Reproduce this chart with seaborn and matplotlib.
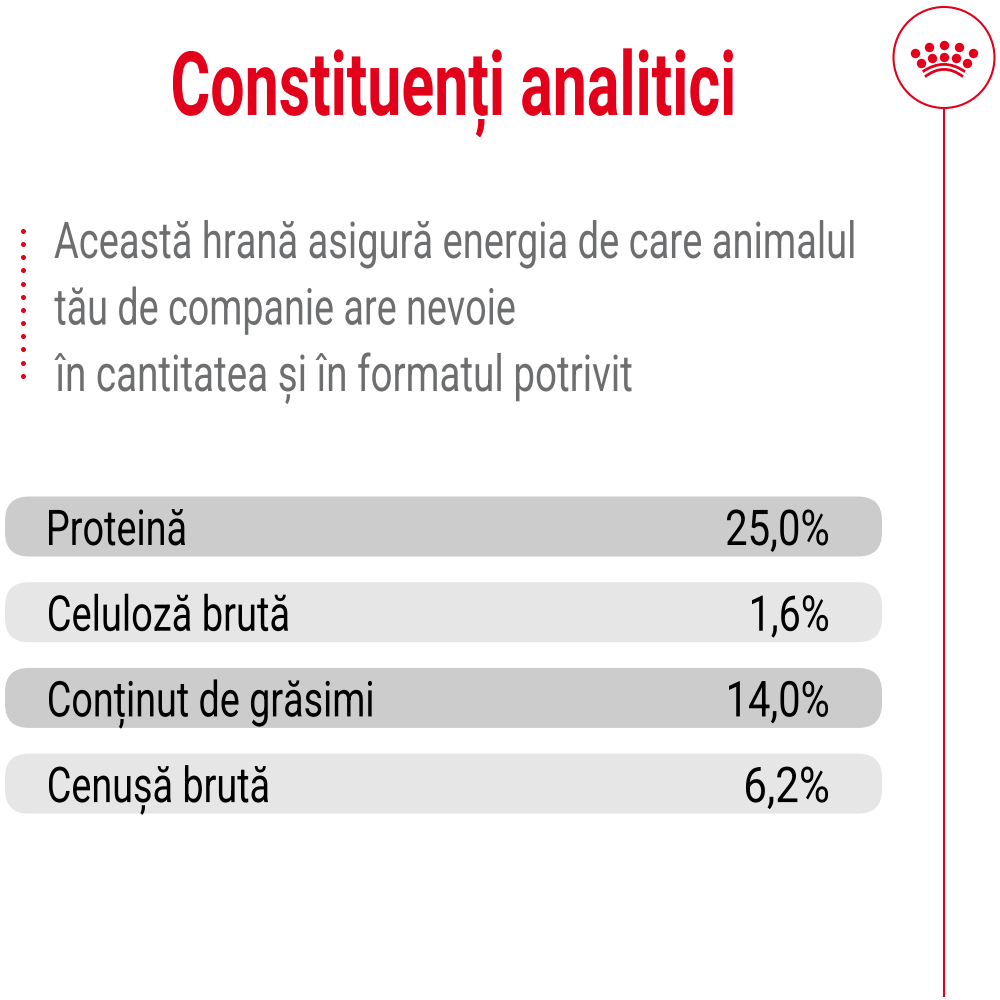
import matplotlib
matplotlib.use("Agg")
import matplotlib.pyplot as plt
from matplotlib.colors import to_rgba
from matplotlib.font_manager import FontProperties
from matplotlib.patches import Circle, FancyBboxPatch, PathPatch
from matplotlib.path import Path
from matplotlib.text import Text
from matplotlib.textpath import TextPath
from matplotlib.transforms import Affine2D, IdentityTransform
import pandas as pd
import seaborn as sns

# data
title = "Constituenți analitici"
intro_lines = [
    "Această hrană asigură energia de care animalul",
    "tău de companie are nevoie",
    "în cantitatea și în formatul potrivit",
]
nutrients = ["Proteină", "Celuloză brută", "Conținut de grăsimi", "Cenușă brută"]
values = ["25,0%", "1,6%", "14,0%", "6,2%"]
row_length = [877, 877, 877, 877]

crown_x = [915, 929, 944, 959, 973.3, 921, 932, 944, 956, 967.3]
crown_y = [52.7, 47, 45, 47, 52.7, 62.7, 58.3, 56.7, 58.3, 62.7]

# text widths in the picture, px
intro_widths = [799, 460, 577]
name_widths = [136, 239, 323, 219]
value_widths = [101, 76, 99, 82]

RED = "#e2001a"
GREY_TEXT = "#6d6e70"
FONT = "Roboto"

sns.set_theme(style="white")
plt.rcParams["font.family"] = [FONT, "DejaVu Sans"]


# no condensed font here, so squeeze the glyphs sideways when drawing
class NarrowText(Text):
    def __init__(self, x, y, s, squeeze=1.0, **kw):
        super().__init__(x, y, s, **kw)
        self.squeeze = squeeze

    def _outline(self):
        tp = TextPath((0, 0), self.get_text(), size=self.get_fontsize(),
                      prop=self.get_fontproperties())
        k = self.figure.dpi / 72
        ext = tp.get_extents()
        x, y = self.get_transform().transform(self.get_position())
        if self.get_ha() == "right":
            x -= ext.x1 * self.squeeze * k
        elif self.get_ha() == "center":
            x -= (ext.x0 + ext.x1) / 2 * self.squeeze * k
        else:
            x -= ext.x0 * self.squeeze * k
        return tp.transformed(Affine2D().scale(self.squeeze * k, k).translate(x, y))

    def draw(self, renderer):
        gc = renderer.new_gc()
        gc.set_linewidth(0)
        renderer.draw_path(gc, self._outline(), IdentityTransform(),
                           to_rgba(self.get_color()))
        gc.restore()

    def get_window_extent(self, renderer=None, dpi=None):
        return self._outline().get_extents()


def squeeze_for(text, size, weight, width_px):
    tp = TextPath((0, 0), text, size=size, prop=FontProperties(family=FONT, weight=weight))
    return width_px / (tp.get_extents().width * 100 / 72)


fig = plt.figure(figsize=(10, 10), dpi=100)

# rows, y axis is set so that one category step is 85.7 px
ax_rows = fig.add_axes([0, 0, 1, 1])
df = pd.DataFrame({"nutrient": nutrients, "length": row_length})
sns.barplot(data=df, y="nutrient", x="length", hue="nutrient", legend=False,
            palette=["#cccccc", "#e6e6e6", "#cccccc", "#e6e6e6"],
            width=0.7, saturation=1, ax=ax_rows)
ax_rows.set_xlim(-5, 995)
ax_rows.set_ylim(5.525, -6.144)
ax_rows.axis("off")

# swap the square bars for rounded ones
for bar in list(ax_rows.patches):
    x, y, w, h = bar.get_x(), bar.get_y(), bar.get_width(), bar.get_height()
    colour = bar.get_facecolor()
    bar.remove()
    ax_rows.add_patch(FancyBboxPatch(
        (x, y), w, h,
        boxstyle="round,pad=0,rounding_size=24",
        mutation_aspect=h / 60, fc=colour, ec="none"))

# everything else in picture pixels
ax = fig.add_axes([0, 0, 1, 1])
ax.patch.set_alpha(0)

# dotted red rule left of the intro
dots = pd.DataFrame({"x": [23.3] * 12, "y": [231 + 13.15 * i for i in range(12)]})
sns.scatterplot(data=dots, x="x", y="y", color=RED, s=13, linewidth=0, ax=ax)

# crown
crown = pd.DataFrame({"x": crown_x, "y": crown_y})
sns.scatterplot(data=crown, x="x", y="y", color=RED, s=46, linewidth=0, zorder=3, ax=ax)

ax.set_xlim(0, 1000)
ax.set_ylim(1000, 0)
ax.axis("off")


def put(x, y, s, squeeze, **kw):
    t = NarrowText(x, y, s, squeeze=squeeze, transform=ax.transData, **kw)
    t.set_figure(fig)
    ax.add_artist(t)


s_title = squeeze_for(title, 64, "bold", 560)
put(453, 115, title, s_title, color=RED, fontsize=64, fontweight="bold", ha="center")

for i, line in enumerate(intro_lines):
    s_intro = squeeze_for(line, 36.5, "normal", intro_widths[i])
    put(54.5, 258 + 66.5 * i, line, s_intro, color=GREY_TEXT, fontsize=36.5, ha="left")

for i, (name, val) in enumerate(zip(nutrients, values)):
    base = 545 + 85.7 * i
    put(49, base, name, squeeze_for(name, 35.5, "normal", name_widths[i]),
        color="black", fontsize=35.5, ha="left")
    put(828, base, val, squeeze_for(val, 35.5, "normal", value_widths[i]),
        color="black", fontsize=35.5, ha="right")

# logo and vertical line on the right
ax.plot([944, 944], [107, 997], color=RED, lw=1.5, solid_capstyle="butt")
ax.add_patch(Circle((944, 57.5), 50.5, fc="white", ec=RED, lw=1.5, zorder=2))

# crown band, two arcs
for y_end, y_ctrl, x_l, x_r in [(71.7, 57, 922.7, 965), (76.7, 62, 925, 963)]:
    arc = Path([(x_l, y_end), (944, y_ctrl), (x_r, y_end)],
               [Path.MOVETO, Path.CURVE3, Path.CURVE3])
    ax.add_patch(PathPatch(arc, fc="none", ec=RED, lw=2.0, capstyle="butt", zorder=3))

fig.savefig("out.png", dpi=100)
